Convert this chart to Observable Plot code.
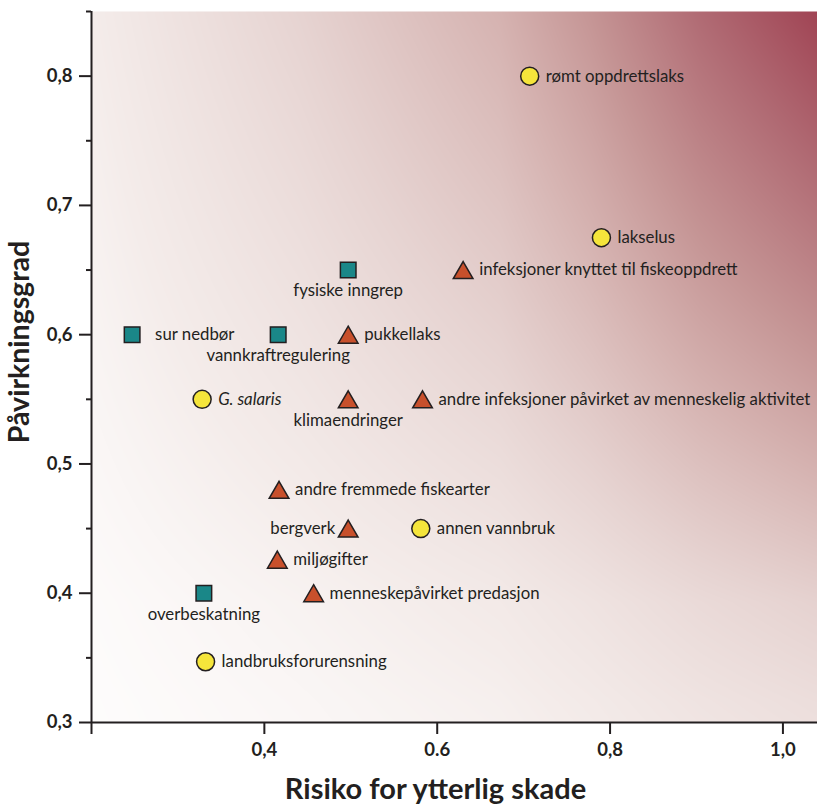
<!DOCTYPE html>
<html><head><meta charset="utf-8">
<script src="https://cdn.jsdelivr.net/npm/d3@7"></script>
<script src="https://cdn.jsdelivr.net/npm/@observablehq/plot@0.6"></script>
<style>body{margin:0;background:#fff}</style>
</head><body><div id="chart"></div>
<script>
// ---- data ----
const names = ["rømt oppdrettslaks","lakselus","fysiske inngrep","infeksjoner knyttet til fiskeoppdrett","sur nedbør","vannkraftregulering","pukkellaks","G. salaris","klimaendringer","andre infeksjoner påvirket av menneskelig aktivitet","andre fremmede fiskearter","bergverk","annen vannbruk","miljøgifter","menneskepåvirket predasjon","overbeskatning","landbruksforurensning"];
const risk =   [0.707, 0.79, 0.497, 0.63, 0.247, 0.416, 0.497, 0.328, 0.497, 0.583, 0.417, 0.497, 0.581, 0.415, 0.457, 0.33, 0.332];
const impact = [0.80, 0.675, 0.65, 0.65, 0.60, 0.60, 0.60, 0.55, 0.55, 0.55, 0.48, 0.45, 0.45, 0.426, 0.40, 0.40, 0.347];
const shapes = ["circle","circle","square","triangle","square","square","triangle","circle","triangle","triangle","triangle","triangle","circle","triangle","triangle","square","circle"];
const labelPos = ["right","right","below","right","rightwide","below","right","right","below","right","right","left","right","right","right","below","right"];
const italic = names.map(n => n === "G. salaris");

const xTicks = [0.2, 0.4, 0.6, 0.8, 1.0];
const xTickLabels = ["", "0,4", "0.6", "0,8", "1,0"];
const yTicks = [0.3, 0.4, 0.5, 0.6, 0.7, 0.8];
const yTickLabels = ["0,3", "0,4", "0,5", "0,6", "0,7", "0,8"];
const yMinorTicks = [0.35, 0.45, 0.55, 0.65, 0.75, 0.85];
const xTitle = "Risiko for ytterlig skade";
const yTitle = "Påvirkningsgrad";

// ---- table ----
const rows = names.map((name, i) => ({name, risk: risk[i], impact: impact[i], shape: shapes[i], pos: labelPos[i], italic: italic[i]}));
const xTickRows = xTicks.map((v, i) => ({v, label: xTickLabels[i]}));
const yTickRows = yTicks.map((v, i) => ({v, label: yTickLabels[i]}));

const X0 = 0.2, X1 = 1.04, Y0 = 0.3, Y1 = 0.85;
const W = 817, H = 805, ML = 91, MR = 0, MT = 11, MB = 83;
const kx = (W - ML - MR) / (X1 - X0), ky = (H - MT - MB) / (Y1 - Y0);

// background shading: darkness falls off from the top-right corner
const fallX = d3.scaleLinear().domain([0, 117, 227, 317, 517, 725, 900]).range([0.95, 0.76, 0.54, 0.39, 0.22, 0.08, 0.01]).clamp(true);
const fallY = d3.scaleLinear().domain([0, 390, 590, 690, 712]).range([1, 0.5, 0.24, 0.17, 0.16]).clamp(true);

// triangle centred on its bounding box
const triangleBox = {
  draw(ctx, size) {
    const s = Math.sqrt(size * 4 / Math.sqrt(3)), h = s * Math.sqrt(3) / 2;
    ctx.moveTo(0, -h / 2); ctx.lineTo(s / 2, h / 2); ctx.lineTo(-s / 2, h / 2); ctx.closePath();
  }
};
const symbols = {circle: "circle", square: "square", triangle: triangleBox};
const fills = {circle: "#f5e53b", square: "#1a8788", triangle: "#c8502c"};
const radius = {circle: 9, square: 8.8, triangle: 7.3};

function dots(shape) {
  return Plot.dot(rows.filter(d => d.shape === shape), {
    x: "risk", y: "impact", symbol: () => symbols[shape], r: radius[shape],
    fill: fills[shape], stroke: "#231f20", strokeWidth: 1.5
  });
}
function labels(pos, ital, opts) {
  return Plot.text(rows.filter(d => d.pos === pos && d.italic === ital), {
    x: "risk", y: "impact", text: "name", fill: "#231f20", fontSize: 16.8,
    fontStyle: ital ? "italic" : "normal", ...opts
  });
}

const chart = Plot.plot({
  width: W, height: H,
  marginLeft: ML, marginRight: MR, marginTop: MT, marginBottom: MB,
  x: {domain: [X0, X1]},
  y: {domain: [Y0, Y1]},
  symbol: {type: "identity"},
  color: {type: "linear", domain: [0, 0.08, 0.22, 0.39, 0.54, 0.76, 1],
          range: ["#ffffff", "#f4ecea", "#e6d3d1", "#d5b2b0", "#c59595", "#b06a73", "#9c3a4c"]},
  style: {fontFamily: "Lato, 'Open Sans', sans-serif", fontSize: "16px", color: "#231f20", background: "white"},
  marks: [
    Plot.raster({x1: X0, x2: X1, y1: Y0, y2: Y1, pixelSize: 1,
      fill: (x, y) => fallX((X1 - x) * kx) * fallY((Y1 - y) * ky)}),
    Plot.ruleX([X0], {y1: Y0, y2: Y1, stroke: "#231f20", strokeWidth: 2}),
    Plot.ruleY([Y0], {x1: X0, x2: X1, stroke: "#231f20", strokeWidth: 2}),
    Plot.axisY(yTicks, {tickSize: 12, strokeWidth: 2, stroke: "#231f20", tickFormat: () => "", label: null}),
    Plot.axisY(yMinorTicks, {tickSize: 5, strokeWidth: 2, stroke: "#231f20", tickFormat: () => "", label: null}),
    Plot.axisX(xTicks, {tickSize: 12, strokeWidth: 2, stroke: "#231f20", tickFormat: () => "", label: null}),
    Plot.text(yTickRows, {y: "v", text: "label", frameAnchor: "left", textAnchor: "end", dx: -19, fontSize: 18.5, fontWeight: 700, fill: "#231f20"}),
    Plot.text(xTickRows, {x: "v", text: "label", frameAnchor: "bottom", lineAnchor: "top", dy: 20, fontSize: 18.5, fontWeight: 700, fill: "#231f20"}),
    Plot.text([xTitle], {frameAnchor: "bottom", textAnchor: "middle", dx: -19, dy: 76, fontSize: 29, fontWeight: 700, fill: "#231f20"}),
    Plot.text([yTitle], {frameAnchor: "left", textAnchor: "middle", rotate: -90, dx: -72, dy: -25, fontSize: 28.5, fontWeight: 700, fill: "#231f20"}),
    dots("circle"), dots("square"), dots("triangle"),
    labels("right", false, {textAnchor: "start", dx: 16}),
    labels("right", true, {textAnchor: "start", dx: 16}),
    labels("rightwide", false, {textAnchor: "start", dx: 23}),
    labels("left", false, {textAnchor: "end", dx: -13}),
    labels("below", false, {textAnchor: "middle", dy: 21})
  ]
});
document.getElementById("chart").appendChild(chart);
</script></body></html>
